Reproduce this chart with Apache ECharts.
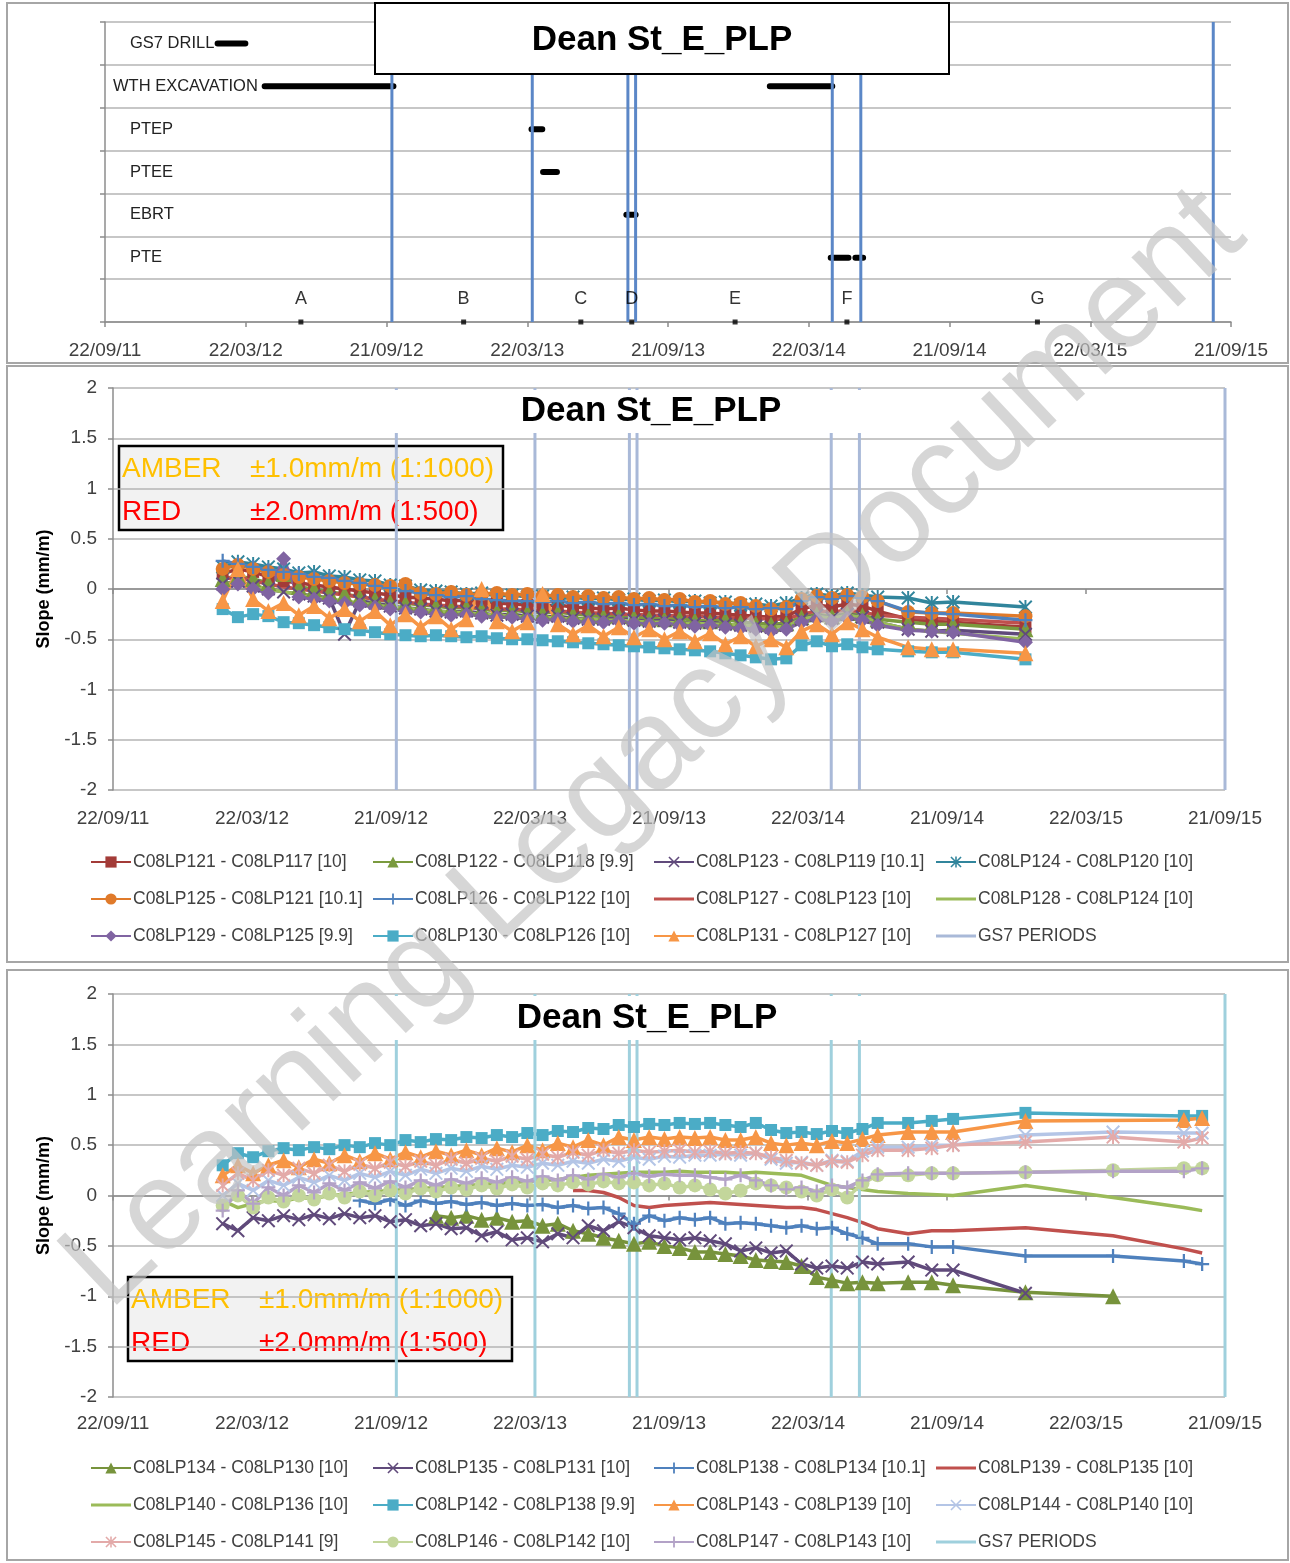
<!DOCTYPE html>
<html><head><meta charset="utf-8">
<script src="https://cdn.jsdelivr.net/npm/echarts@6/dist/echarts.min.js"></script>
<style>html,body{margin:0;padding:0;background:#fff}#c{width:1290px;height:1563px}</style>
</head><body><div id="c"></div>
<script>
// ---------- DATA ----------
const ACT_ROWS = ['GS7 DRILL','WTH EXCAVATION','PTEP','PTEE','EBRT','PTE',''];
const ACT_ROW = [0,1,1,2,3,4,5,5];
const ACT_START = ['2012-02-15','2012-04-16','2014-01-31','2013-03-28','2013-04-12','2013-07-29','2014-04-20','2014-05-22'];
const ACT_END   = ['2012-03-22','2012-09-30','2014-04-22','2013-04-11','2013-04-30','2013-08-10','2014-05-13','2014-06-01'];
const GS7_DATES = ['2012-09-28','2013-03-29','2013-07-31','2013-08-10','2014-04-22','2014-05-29'];
const TOP_GS7_LAST = '2015-08-29';
const SLOPE_GS7_LAST = '2015-09-21';
const LETTERS = ['A','B','C','D','E','F','G'];
const LETTER_DATES = ['2012-06-02','2012-12-30','2013-05-31','2013-08-05','2013-12-17','2014-05-11','2015-01-13'];

const M_DATES = ['2012-02-13','2012-03-04','2012-03-24','2012-04-13','2012-05-03','2012-05-23','2012-06-12','2012-07-02','2012-07-22','2012-08-11',
'2012-08-31','2012-09-20','2012-10-10','2012-10-30','2012-11-19','2012-12-09','2012-12-29','2013-01-18','2013-02-07','2013-02-27',
'2013-03-19','2013-04-08','2013-04-28','2013-05-18','2013-06-07','2013-06-27','2013-07-17','2013-08-06','2013-08-26','2013-09-15',
'2013-10-05','2013-10-25','2013-11-14','2013-12-04','2013-12-24','2014-01-13','2014-02-02','2014-02-22','2014-03-14','2014-04-03',
'2014-04-23','2014-05-13','2014-06-02','2014-06-22','2014-08-01','2014-09-01','2014-09-29','2015-01-02'];
const B_DATES = M_DATES.concat(['2015-04-27','2015-07-29','2015-08-22']);

const M121 = [0.15,0.2,0.17,0.12,0.08,0.06,0.04,0.02,0.0,-0.02,-0.04,-0.06,-0.08,-0.09,-0.1,-0.12,-0.11,-0.13,-0.14,-0.15,-0.16,-0.17,-0.16,-0.18,-0.19,-0.2,-0.19,-0.21,-0.22,-0.22,-0.23,-0.24,-0.24,-0.25,-0.26,-0.27,-0.28,-0.27,-0.2,-0.16,-0.18,-0.15,-0.17,-0.22,-0.3,-0.32,-0.33,-0.38];
const M122 = [0.1,0.13,0.1,0.06,0.15,0.02,0.0,-0.03,-0.05,-0.08,-0.1,-0.13,-0.14,-0.16,-0.17,-0.19,-0.18,-0.2,-0.22,-0.21,-0.23,-0.24,-0.23,-0.25,-0.26,-0.27,-0.26,-0.28,-0.29,-0.3,-0.29,-0.31,-0.32,-0.3,-0.33,-0.34,-0.35,-0.34,-0.28,-0.25,-0.27,-0.24,-0.26,-0.3,-0.33,-0.35,-0.35,-0.4];
const M123 = [0.05,0.08,0.03,0.0,-0.03,-0.05,-0.07,-0.09,-0.45,-0.12,-0.14,-0.17,-0.19,-0.2,-0.22,-0.23,-0.22,-0.24,-0.26,-0.25,-0.27,-0.28,-0.27,-0.29,-0.3,-0.3,-0.29,-0.31,-0.32,-0.31,-0.33,-0.34,-0.33,-0.35,-0.36,-0.37,-0.38,-0.36,-0.3,-0.26,-0.29,-0.25,-0.28,-0.33,-0.4,-0.42,-0.41,-0.45];
const M124 = [0.22,0.27,0.25,0.22,0.2,0.16,0.17,0.13,0.12,0.09,0.08,0.04,0.03,-0.01,-0.02,-0.03,-0.05,-0.04,-0.07,-0.06,-0.08,-0.07,-0.1,-0.08,-0.1,-0.09,-0.11,-0.1,-0.12,-0.11,-0.13,-0.12,-0.14,-0.13,-0.16,-0.15,-0.17,-0.14,-0.09,-0.05,-0.07,-0.04,-0.06,-0.08,-0.09,-0.14,-0.13,-0.18];
const M125 = [0.2,0.24,0.2,0.17,0.14,0.12,0.1,0.08,0.06,0.05,0.04,0.03,0.05,-0.04,-0.05,-0.03,-0.06,-0.05,-0.04,-0.06,-0.05,-0.07,-0.06,-0.08,-0.07,-0.09,-0.08,-0.1,-0.09,-0.11,-0.1,-0.13,-0.12,-0.15,-0.14,-0.17,-0.2,-0.18,-0.1,-0.07,-0.09,-0.06,-0.08,-0.12,-0.23,-0.24,-0.24,-0.27];
const M126 = [0.28,0.25,0.22,0.19,0.17,0.15,0.12,0.11,0.08,0.06,0.03,0.01,-0.02,-0.04,-0.06,-0.08,-0.07,-0.1,-0.11,-0.12,-0.12,-0.13,-0.12,-0.14,-0.13,-0.15,-0.14,-0.16,-0.15,-0.17,-0.16,-0.18,-0.17,-0.19,-0.18,-0.2,-0.19,-0.2,-0.12,-0.08,-0.1,-0.07,-0.09,-0.12,-0.22,-0.24,-0.25,-0.31];
const M127 = [0.1,0.12,0.08,0.05,0.02,0.0,-0.02,-0.04,-0.06,-0.08,-0.1,-0.12,-0.13,-0.15,-0.16,-0.17,-0.18,-0.19,-0.2,-0.2,-0.21,-0.22,-0.22,-0.23,-0.24,-0.24,-0.25,-0.25,-0.26,-0.26,-0.27,-0.27,-0.28,-0.28,-0.29,-0.29,-0.3,-0.3,-0.25,-0.22,-0.23,-0.21,-0.23,-0.26,-0.28,-0.29,-0.3,-0.34];
const M128 = [0.05,0.07,0.03,0.0,-0.03,-0.05,-0.08,-0.1,-0.12,-0.14,-0.16,-0.18,-0.19,-0.21,-0.22,-0.23,-0.24,-0.25,-0.26,-0.27,-0.28,-0.28,-0.29,-0.3,-0.3,-0.31,-0.31,-0.32,-0.33,-0.33,-0.34,-0.34,-0.35,-0.35,-0.36,-0.37,-0.38,-0.37,-0.3,-0.27,-0.29,-0.26,-0.28,-0.33,-0.4,-0.42,-0.44,-0.5];
const M129 = [0.0,0.05,0.0,-0.04,0.3,-0.08,-0.1,-0.12,-0.14,-0.16,-0.18,-0.2,-0.22,-0.23,-0.25,-0.26,-0.25,-0.27,-0.28,-0.28,-0.3,-0.31,-0.3,-0.32,-0.33,-0.33,-0.32,-0.34,-0.35,-0.34,-0.36,-0.37,-0.36,-0.38,-0.39,-0.4,-0.42,-0.4,-0.33,-0.3,-0.32,-0.29,-0.31,-0.36,-0.41,-0.42,-0.43,-0.53];
const M130 = [-0.2,-0.28,-0.25,-0.27,-0.33,-0.34,-0.36,-0.38,-0.4,-0.41,-0.43,-0.45,-0.46,-0.47,-0.46,-0.47,-0.48,-0.47,-0.49,-0.5,-0.5,-0.51,-0.52,-0.53,-0.54,-0.55,-0.56,-0.57,-0.58,-0.59,-0.6,-0.61,-0.62,-0.64,-0.66,-0.68,-0.7,-0.69,-0.56,-0.52,-0.57,-0.55,-0.58,-0.6,-0.62,-0.63,-0.63,-0.7];
const M131 = [-0.12,0.2,-0.1,-0.22,-0.14,-0.26,-0.17,-0.29,-0.2,-0.32,-0.22,-0.36,-0.25,-0.38,-0.27,-0.4,-0.3,0.0,-0.32,-0.42,-0.33,-0.05,-0.35,-0.45,-0.36,-0.47,-0.38,-0.48,-0.4,-0.5,-0.42,-0.52,-0.44,-0.55,-0.47,-0.57,-0.5,-0.58,-0.42,-0.35,-0.45,-0.33,-0.4,-0.48,-0.58,-0.6,-0.6,-0.64];

const B134 = [null,null,null,null,null,null,null,null,null,null,null,null,null,null,-0.2,-0.22,-0.2,-0.24,-0.22,-0.26,-0.25,-0.3,-0.28,-0.35,-0.38,-0.42,-0.45,-0.48,-0.46,-0.5,-0.52,-0.56,-0.56,-0.58,-0.6,-0.64,-0.65,-0.66,-0.7,-0.81,-0.84,-0.87,-0.86,-0.87,-0.86,-0.86,-0.89,-0.96,-1.0,null,null];
const B135 = [-0.28,-0.35,-0.22,-0.25,-0.2,-0.24,-0.19,-0.23,-0.18,-0.22,-0.2,-0.26,-0.24,-0.3,-0.28,-0.33,-0.32,-0.4,-0.36,-0.44,-0.42,-0.46,-0.38,-0.42,-0.3,-0.35,-0.26,-0.32,-0.4,-0.42,-0.44,-0.42,-0.45,-0.48,-0.55,-0.52,-0.57,-0.55,-0.68,-0.72,-0.7,-0.72,-0.66,-0.68,-0.66,-0.74,-0.74,-0.97,null,null,null];
const B138 = [null,null,null,null,null,null,null,null,null,-0.05,-0.08,-0.04,-0.1,-0.05,-0.08,-0.06,-0.09,-0.07,-0.1,-0.08,-0.1,-0.09,-0.12,-0.1,-0.13,-0.12,-0.18,-0.28,-0.2,-0.25,-0.22,-0.24,-0.22,-0.28,-0.27,-0.28,-0.3,-0.32,-0.3,-0.33,-0.32,-0.38,-0.42,-0.48,-0.48,-0.51,-0.51,-0.6,-0.6,-0.65,-0.68];
const B139 = [null,null,null,null,null,null,null,null,null,null,null,null,null,null,null,null,null,null,null,null,null,null,null,0.05,0.05,0.03,-0.02,-0.1,-0.12,-0.1,-0.09,-0.08,-0.07,-0.08,-0.09,-0.1,-0.11,-0.12,-0.12,-0.14,-0.18,-0.22,-0.27,-0.33,-0.38,-0.35,-0.35,-0.32,-0.4,-0.53,-0.57];
const B140 = [-0.05,-0.12,-0.08,-0.05,-0.06,-0.02,-0.03,0.0,0.01,0.03,0.04,0.05,0.06,0.07,0.08,0.09,0.1,0.11,0.12,0.13,0.14,0.15,0.16,0.18,0.2,0.21,0.22,0.23,0.23,0.23,0.24,0.23,0.23,0.23,0.22,0.23,0.22,0.21,0.2,0.15,0.1,0.08,0.06,0.04,0.02,0.01,0.0,0.1,-0.02,-0.12,-0.15];
const B142 = [0.3,0.42,0.38,0.44,0.47,0.45,0.48,0.46,0.5,0.48,0.52,0.5,0.55,0.53,0.56,0.55,0.58,0.57,0.6,0.58,0.62,0.6,0.64,0.63,0.67,0.66,0.7,0.68,0.71,0.7,0.72,0.71,0.72,0.7,0.68,0.72,0.65,0.62,0.63,0.61,0.64,0.62,0.66,0.72,0.72,0.74,0.76,0.82,null,0.79,0.79];
const B143 = [0.2,0.3,0.22,0.3,0.35,0.28,0.36,0.32,0.4,0.34,0.42,0.36,0.43,0.38,0.44,0.4,0.45,0.4,0.47,0.43,0.5,0.45,0.52,0.48,0.55,0.5,0.58,0.55,0.58,0.56,0.58,0.57,0.58,0.55,0.55,0.58,0.52,0.5,0.52,0.5,0.54,0.52,0.56,0.6,0.63,0.63,0.63,0.74,null,0.75,0.77];
const B144 = [0.0,0.12,0.05,0.15,0.1,0.18,0.13,0.2,0.15,0.22,0.18,0.24,0.2,0.26,0.22,0.27,0.24,0.29,0.26,0.3,0.28,0.32,0.3,0.34,0.32,0.36,0.34,0.38,0.36,0.39,0.38,0.4,0.4,0.41,0.4,0.42,0.36,0.32,0.33,0.3,0.35,0.34,0.44,0.48,0.48,0.5,0.5,0.6,0.63,0.62,0.62];
const B145 = [0.1,0.22,0.15,0.25,0.2,0.27,0.22,0.3,0.24,0.31,0.27,0.33,0.29,0.34,0.3,0.36,0.32,0.37,0.34,0.39,0.36,0.41,0.38,0.43,0.4,0.45,0.42,0.45,0.43,0.44,0.45,0.43,0.44,0.42,0.43,0.42,0.38,0.35,0.32,0.3,0.34,0.33,0.4,0.45,0.45,0.47,0.5,0.53,0.58,0.53,0.57];
const B146 = [-0.1,0.0,-0.12,-0.02,-0.06,0.0,-0.04,0.02,-0.02,0.04,0.0,0.05,0.02,0.07,0.04,0.08,0.06,0.1,0.07,0.11,0.08,0.12,0.1,0.13,0.11,0.14,0.12,0.13,0.1,0.12,0.08,0.1,0.06,0.02,0.05,0.12,0.1,0.08,0.04,0.0,0.06,-0.02,0.12,0.2,0.2,0.22,0.22,0.23,0.25,0.27,0.27];
const B147 = [-0.15,0.05,-0.08,0.08,0.0,0.1,0.03,0.12,0.05,0.13,0.07,0.14,0.08,0.15,0.1,0.16,0.12,0.17,0.13,0.18,0.14,0.19,0.15,0.2,0.16,0.21,0.18,0.22,0.19,0.21,0.2,0.2,0.18,0.16,0.2,0.15,0.1,0.06,0.08,0.04,0.1,0.08,0.15,0.21,0.22,0.22,0.22,0.23,0.24,0.24,0.27];

// ---------- HELPERS ----------
const F = 'Liberation Sans, Arial, sans-serif';
const AX = '#8C8C8C', GRIDC = '#B5B5B5', TXT = '#404040';
const BASE = Date.UTC(2011, 8, 22);
function day(s){ const a = s.split('-'); return Math.round((Date.UTC(+a[0], a[1]-1, +a[2]) - BASE) / 864e5); }
function fmt(v){ const t = new Date(BASE + Math.floor(v + 1e-6) * 864e5); const p = n => String(n).padStart(2,'0');
  return p(t.getUTCDate()) + '/' + p(t.getUTCMonth()+1) + '/' + p(t.getUTCFullYear() % 100); }
const SYM = {
  x: 'path://M1,0L5,4L9,0L10,1L6,5L10,9L9,10L5,6L1,10L0,9L4,5L0,1Z',
  plus: 'path://M4.2,0H5.8V4.2H10V5.8H5.8V10H4.2V5.8H0V4.2H4.2Z',
  star: 'path://M1,0L5,4L9,0L10,1L6,5L10,9L9,10L5,6L1,10L0,9L4,5L0,1ZM4.3,0H5.7V10H4.3Z'
};
const LINE_ICON = 'path://M0,0h0.01v0.01h-0.01zM0,5.6H40V8.4H0ZM0,13.99h0.01v0.01h-0.01z';
const SYMSIZE = {rect:12, triangle:16, circle:14, diamond:15, x:14, plus:14, star:14, none:0};
function symOf(k){ return SYM[k] || k; }

function xAxisCfg(gi, margin){
  return {type:'value', gridIndex:gi, min:0, max:1460, interval:182.5,
    axisLine:{show:true, lineStyle:{color:AX, width:1.5}},
    axisTick:{show:true, length:5, lineStyle:{color:AX, width:1.5}},
    axisLabel:{formatter:fmt, fontSize:19, color:TXT, fontFamily:F, margin:margin},
    splitLine:{show:false}};
}
function slopeY(gi){
  return {type:'value', gridIndex:gi, min:-2, max:2, interval:0.5,
    axisLine:{show:true, lineStyle:{color:AX, width:1.5}},
    axisTick:{show:true, length:5, lineStyle:{color:AX, width:1.5}},
    axisLabel:{fontSize:19, color:TXT, fontFamily:F, margin:16},
    splitLine:{show:true, lineStyle:{color:GRIDC, width:1.5}},
    name:'Slope (mm/m)', nameLocation:'middle', nameGap:56,
    nameTextStyle:{fontSize:18, fontWeight:'bold', color:'#000', fontFamily:F}};
}
function gsLine(dates, last, y0, y1){
  const out = [];
  dates.concat([last]).forEach(d => { const x = day(d); out.push([x, y0], [x, y1], [x, '-']); });
  return out;
}
function dataSeries(defs, dates, xi, yi){
  return defs.map(d => ({
    type:'line', name:d[0], xAxisIndex:xi, yAxisIndex:yi,
    data: dates.map((dt, i) => [day(dt), d[1][i] == null ? '-' : d[1][i]]),
    connectNulls:true, symbol: d[3]==='none' ? 'none' : symOf(d[3]), symbolSize:SYMSIZE[d[3]],
    lineStyle:{width:3.5, color:d[2]}, itemStyle:{color:d[2]}, animation:false
  }));
}
function legends(items, top){
  const cols = [90, 372, 653, 935];
  return cols.map((x, c) => ({
    left:x, top:top, orient:'vertical', padding:0, selectedMode:false,
    data: items.filter((n, i) => i % 4 === c),
    itemWidth:40, itemHeight:14, itemGap:17,
    textStyle:{fontSize:17.5, color:TXT, fontFamily:F, lineHeight:20, padding:[0,0,0,-3]}
  }));
}
function legendItems(defs, gsName){
  return defs.map(d => d[3]==='none' ? {name:d[0], icon:LINE_ICON} : {name:d[0]}).concat([{name:gsName, icon:LINE_ICON}]);
}

// ---------- SERIES DEFINITIONS ----------
const MID = [
  ['C08LP121 - C08LP117 [10]', M121, '#A33B38', 'rect'],
  ['C08LP122 - C08LP118 [9.9]', M122, '#7A9A3E', 'triangle'],
  ['C08LP123 - C08LP119 [10.1]', M123, '#604A7B', 'x'],
  ['C08LP124 - C08LP120 [10]', M124, '#31859C', 'star'],
  ['C08LP125 - C08LP121 [10.1]', M125, '#E07A2A', 'circle'],
  ['C08LP126 - C08LP122 [10]', M126, '#4F81BD', 'plus'],
  ['C08LP127 - C08LP123 [10]', M127, '#C0504D', 'none'],
  ['C08LP128 - C08LP124 [10]', M128, '#9BBB59', 'none'],
  ['C08LP129 - C08LP125 [9.9]', M129, '#8064A2', 'diamond'],
  ['C08LP130 - C08LP126 [10]', M130, '#4BACC6', 'rect'],
  ['C08LP131 - C08LP127 [10]', M131, '#F79646', 'triangle']
];
const BOT = [
  ['C08LP134 - C08LP130 [10]', B134, '#77933C', 'triangle'],
  ['C08LP135 - C08LP131 [10]', B135, '#604A7B', 'x'],
  ['C08LP138 - C08LP134 [10.1]', B138, '#4F81BD', 'plus'],
  ['C08LP139 - C08LP135 [10]', B139, '#C0504D', 'none'],
  ['C08LP140 - C08LP136 [10]', B140, '#9BBB59', 'none'],
  ['C08LP142 - C08LP138 [9.9]', B142, '#4BACC6', 'rect'],
  ['C08LP143 - C08LP139 [10]', B143, '#F79646', 'triangle'],
  ['C08LP144 - C08LP140 [10]', B144, '#B4C5E6', 'x'],
  ['C08LP145 - C08LP141 [9]', B145, '#E3AAA9', 'star'],
  ['C08LP146 - C08LP142 [10]', B146, '#C3D69B', 'circle'],
  ['C08LP147 - C08LP143 [10]', B147, '#B3A2C7', 'plus']
];
const GS7_MID_NAME = 'GS7 PERIODS', GS7_BOT_NAME = 'GS7 PERIODS ';

// top activity bars
const nRows = ACT_ROWS.length;
const actData = [];
ACT_ROW.forEach((r, i) => { const y = nRows - r - 0.5; actData.push([day(ACT_START[i]), y], [day(ACT_END[i]), y], [day(ACT_END[i]), '-']); });

const series = [
  {type:'line', name:'activities', xAxisIndex:0, yAxisIndex:0, data:actData, symbol:'none',
   lineStyle:{width:6, color:'#000', cap:'round'}, animation:false},
  {type:'line', name:'gs7top', xAxisIndex:0, yAxisIndex:0, data:gsLine(GS7_DATES, TOP_GS7_LAST, 0, nRows), symbol:'none',
   lineStyle:{width:3, color:'#5B87C7'}, animation:false},
  {type:'scatter', name:'letters', xAxisIndex:0, yAxisIndex:0, clip:false, z:5,
   data: LETTERS.map((l, i) => ({name:l, value:[day(LETTER_DATES[i]), 0]})),
   symbol:'rect', symbolSize:5, itemStyle:{color:'#000'},
   label:{show:true, position:'top', distance:11, formatter:'{b}', fontSize:18, color:'#000', fontFamily:F}, animation:false}
].concat(dataSeries(MID, M_DATES, 1, 2))
 .concat([{type:'line', name:GS7_MID_NAME, xAxisIndex:1, yAxisIndex:2, data:gsLine(GS7_DATES, SLOPE_GS7_LAST, -2, 2),
   symbol:'none', lineStyle:{width:3, color:'#A9B9D8'}, itemStyle:{color:'#A9B9D8'}, animation:false}])
 .concat(dataSeries(BOT, B_DATES, 2, 3))
 .concat([{type:'line', name:GS7_BOT_NAME, xAxisIndex:2, yAxisIndex:3, data:gsLine(GS7_DATES, SLOPE_GS7_LAST, -2, 2),
   symbol:'none', lineStyle:{width:3, color:'#9FD0DD'}, itemStyle:{color:'#9FD0DD'}, animation:false}]);

// ---------- GRAPHICS ----------
function frame(x, y, w, h){ return {type:'rect', z:1, shape:{x, y, width:w, height:h}, style:{fill:'none', stroke:'#A6A6A6', lineWidth:2}}; }
function titleTxt(cx, cy){ return {type:'text', z:61, x:cx, y:cy, style:{text:'Dean St_E_PLP', font:'bold 35px ' + F, fill:'#000', align:'center', verticalAlign:'middle', textAlign:'center', textVerticalAlign:'middle'}}; }
function threshBox(x, y){
  const t = (tx, ty, s, c) => ({type:'text', x:tx, y:ty, style:{text:s, font:'28px ' + F, fill:c, verticalAlign:'middle', textVerticalAlign:'middle'}});
  return {type:'group', x, y, z:60, children:[
    {type:'rect', shape:{x:0, y:0, width:384, height:84}, style:{fill:'#F2F2F2', stroke:'#000', lineWidth:2.5}},
    t(3, 23, 'AMBER', '#FFC000'), t(131, 23, '\u00B11.0mm/m (1:1000)', '#FFC000'),
    t(3, 66, 'RED', '#FF0000'), t(131, 66, '\u00B12.0mm/m (1:500)', '#FF0000')
  ]};
}
const graphic = [
  frame(7, 3, 1281, 360), frame(7, 366, 1281, 596), frame(7, 970, 1281, 590),
  {type:'rect', z:60, shape:{x:375, y:3, width:574, height:71}, style:{fill:'#fff', stroke:'#000', lineWidth:2}},
  titleTxt(662, 40),
  {type:'rect', z:60, shape:{x:390, y:390, width:476, height:43}, style:{fill:'#fff'}},
  titleTxt(651, 411),
  {type:'rect', z:60, shape:{x:390, y:996, width:476, height:44}, style:{fill:'#fff'}},
  titleTxt(647, 1018),
  threshBox(119, 446), threshBox(128, 1277),
  {type:'text', z:100, x:655, y:750, rotation:0.755,
   style:{text:'Learning Legacy Document', font:'128px ' + F, fill:'rgba(195,195,195,0.68)', align:'center', verticalAlign:'middle', textAlign:'center', textVerticalAlign:'middle'}}
];

const option = {
  animation:false,
  backgroundColor:'#fff',
  textStyle:{fontFamily:F},
  grid:[
    {left:105, top:22, width:1126, height:300},
    {left:113, top:388, width:1112, height:402},
    {left:113, top:994, width:1112, height:403}
  ],
  xAxis:[xAxisCfg(0, 19), xAxisCfg(1, 19), xAxisCfg(2, 17)],
  yAxis:[
    {type:'value', gridIndex:0, min:0, max:nRows, interval:1,
     axisLine:{show:true, lineStyle:{color:AX, width:1.5}},
     axisTick:{show:true, length:5, lineStyle:{color:AX, width:1.5}},
     axisLabel:{show:false}, splitLine:{show:true, lineStyle:{color:GRIDC, width:1.5}}},
    {type:'category', gridIndex:0, data:ACT_ROWS, inverse:true, position:'left',
     axisLine:{show:false}, axisTick:{show:false}, splitLine:{show:false},
     axisLabel:{inside:true, margin:8, color:'#222', fontFamily:F, fontSize:16.5,
       formatter: v => v === 'WTH EXCAVATION' ? '{w|' + v + '}' : '{n|' + v + '}',
       rich:{w:{fontSize:16.5, fontFamily:F, color:'#222'}, n:{fontSize:16.5, fontFamily:F, color:'#222', padding:[0,0,0,17]}}}},
    slopeY(1), slopeY(2)
  ],
  legend: legends(legendItems(MID, GS7_MID_NAME), 852)
          .concat(legends(legendItems(BOT, GS7_BOT_NAME), 1458)),
  series: series,
  graphic: graphic
};
const chart = echarts.init(document.getElementById('c'), null, {renderer:'canvas'});
chart.setOption(option);
</script></body></html>
